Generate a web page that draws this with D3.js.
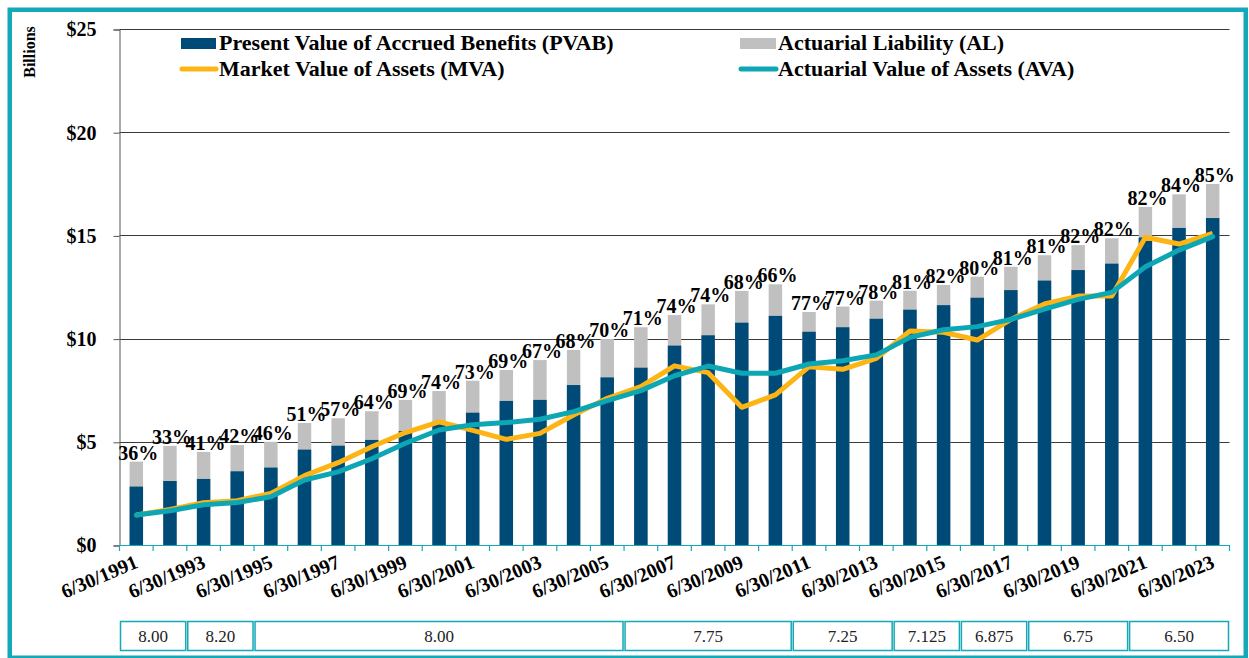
<!DOCTYPE html>
<meta charset="utf-8">
<script src="https://cdn.jsdelivr.net/npm/d3@7"></script>
<style>
  body { margin: 0; background: #fff; }
  svg text { font-family: "Liberation Serif", "Times New Roman", serif; }
</style>
<div id="chart"></div>
<script>

// valuation dates (6/30 of each year)
var years = [1991, 1992, 1993, 1994, 1995, 1996, 1997, 1998, 1999, 2000, 2001,
             2002, 2003, 2004, 2005, 2006, 2007, 2008, 2009, 2010, 2011, 2012,
             2013, 2014, 2015, 2016, 2017, 2018, 2019, 2020, 2021, 2022, 2023];

// $ billions
var pvab = [2.83, 3.10, 3.20, 3.57, 3.75, 4.62, 4.81, 5.09, 5.52, 5.85, 6.41,
            6.98, 7.03, 7.75, 8.12, 8.59, 9.66, 10.16, 10.77, 11.10, 10.33, 10.55,
            10.96, 11.40, 11.62, 11.98, 12.35, 12.81, 13.32, 13.63, 14.90, 15.36, 15.84];
var al   = [4.04, 4.80, 4.51, 4.84, 5.00, 5.91, 6.14, 6.48, 7.03, 7.46, 7.96,
            8.48, 8.96, 9.45, 9.98, 10.55, 11.14, 11.66, 12.31, 12.63, 11.29, 11.55,
            11.84, 12.32, 12.60, 13.00, 13.48, 14.04, 14.53, 14.86, 16.38, 16.99, 17.49];
var mva  = [1.45, 1.72, 2.05, 2.15, 2.50, 3.36, 3.99, 4.76, 5.45, 5.97, 5.55,
            5.12, 5.41, 6.30, 7.11, 7.67, 8.68, 8.35, 6.67, 7.27, 8.64, 8.51,
            9.04, 10.37, 10.31, 9.93, 10.93, 11.68, 12.06, 12.06, 14.91, 14.58, 15.10];
var ava  = [1.45, 1.66, 1.95, 2.06, 2.34, 3.15, 3.54, 4.18, 4.93, 5.57, 5.83,
            5.93, 6.09, 6.46, 6.99, 7.48, 8.20, 8.67, 8.32, 8.32, 8.77, 8.93,
            9.21, 10.06, 10.43, 10.58, 10.93, 11.43, 11.90, 12.24, 13.48, 14.29, 14.94];

// funded ratio labels (AVA / AL)
var funded = ["36%", "33%", "41%", "42%", "46%", "51%", "57%", "64%", "69%", "74%", "73%",
              "69%", "67%", "68%", "70%", "71%", "74%", "74%", "68%", "66%", "77%", "77%",
              "78%", "81%", "82%", "80%", "81%", "81%", "82%", "82%", "82%", "84%", "85%"];

// assumed rate of return table under the axis
var rateLabels = ["8.00", "8.20", "8.00", "7.75", "7.25", "7.125", "6.875", "6.75", "6.50"];
var rateStart  = [1991, 1993, 1995, 2006, 2011, 2014, 2016, 2018, 2021];
var rateEnd    = [1992, 1994, 2005, 2010, 2013, 2015, 2017, 2020, 2023];

var yTicks = [0, 5, 10, 15, 20, 25];
var tickYears = years.filter(function(d) { return d % 2 == 1; });

var colPVAB = "#004a77", colAL = "#c0c0c0", colMVA = "#fdb515", colAVA = "#0ca6b5", teal = "#14a9b9";

var W = 1249, H = 658;
var svg = d3.select("#chart").append("svg")
    .attr("width", W)
    .attr("height", H)
    .style("font-family", "'Liberation Serif', 'Times New Roman', serif");

// outer frame
svg.append("rect")
    .attr("x", 9.75).attr("y", 9.75)
    .attr("width", 1236).attr("height", 648)
    .attr("fill", "none")
    .attr("stroke", teal)
    .attr("stroke-width", 4.5);

var x = d3.scaleBand()
    .domain(years)
    .range([119.5, 1229.5])
    .paddingInner(0.6)
    .paddingOuter(0.3);

var y = d3.scaleLinear()
    .domain([0, 25])
    .range([545, 29]);

// gridlines
svg.append("g")
  .selectAll("line")
  .data(yTicks.filter(function(d) { return d > 0; }))
  .enter().append("line")
    .attr("x1", 119.5).attr("x2", 1229.5)
    .attr("y1", function(d) { return Math.round(y(d)) + 0.5; })
    .attr("y2", function(d) { return Math.round(y(d)) + 0.5; })
    .attr("stroke", "#3a3a3a")
    .attr("stroke-width", 1);

// y axis
var yAxis = svg.append("g")
    .attr("transform", "translate(119.5,0.5)")
    .call(d3.axisLeft(y).tickValues(yTicks).tickSize(6).tickPadding(17)
          .tickFormat(function(d) { return "$" + d; }));
yAxis.attr("font-family", null);
yAxis.select(".domain").attr("stroke", "#555");
yAxis.selectAll(".tick line").attr("stroke", "#555");
yAxis.selectAll("text")
    .attr("font-weight", "bold")
    .attr("font-size", 20)
    .attr("fill", "#000");

svg.append("text")
    .attr("transform", "translate(35,52) rotate(-90)")
    .attr("text-anchor", "middle")
    .attr("font-weight", "bold")
    .attr("font-size", 16)
    .text("Billions");

// bars: AL behind, PVAB in front
var bars = svg.append("g");
bars.selectAll(".al")
  .data(years)
  .enter().append("rect")
    .attr("class", "al")
    .attr("x", function(d) { return x(d); })
    .attr("width", x.bandwidth())
    .attr("y", function(d, i) { return y(al[i]); })
    .attr("height", function(d, i) { return y(0) - y(al[i]); })
    .attr("fill", colAL);
bars.selectAll(".pvab")
  .data(years)
  .enter().append("rect")
    .attr("class", "pvab")
    .attr("x", function(d) { return x(d); })
    .attr("width", x.bandwidth())
    .attr("y", function(d, i) { return y(pvab[i]); })
    .attr("height", function(d, i) { return y(0) - y(pvab[i]); })
    .attr("fill", colPVAB);

// x axis: teal line with ticks between categories
var x0 = x.range()[0];
svg.append("line")
    .attr("x1", x0).attr("x2", x.range()[1])
    .attr("y1", 545.5).attr("y2", 545.5)
    .attr("stroke", teal).attr("stroke-width", 1.2);
svg.append("g")
  .selectAll("line")
  .data(d3.range(years.length + 1))
  .enter().append("line")
    .attr("x1", function(k) { return x0 + k * x.step(); })
    .attr("x2", function(k) { return x0 + k * x.step(); })
    .attr("y1", 545).attr("y2", 551)
    .attr("stroke", teal).attr("stroke-width", 1.2);

svg.append("g")
  .selectAll("text")
  .data(tickYears)
  .enter().append("text")
    .attr("transform", function(d) {
      return "translate(" + (x(d) + x.bandwidth() / 2 + 3) + ",567) rotate(-23)";
    })
    .attr("text-anchor", "end")
    .attr("font-weight", "bold")
    .attr("font-size", 20)
    .text(function(d) { return "6/30/" + d; });

// lines
var line = d3.line()
    .x(function(d, i) { return x(years[i]) + x.bandwidth() / 2; })
    .y(function(d) { return y(d); });

svg.append("path")
    .datum(mva)
    .attr("d", line)
    .attr("fill", "none")
    .attr("stroke", colMVA)
    .attr("stroke-width", 5)
    .attr("stroke-linejoin", "round");
svg.append("path")
    .datum(ava)
    .attr("d", line)
    .attr("fill", "none")
    .attr("stroke", colAVA)
    .attr("stroke-width", 5)
    .attr("stroke-linejoin", "round")
    .attr("stroke-linecap", "round");

// funded ratio labels
svg.append("g")
  .selectAll("text")
  .data(funded)
  .enter().append("text")
    .attr("x", function(d, i) { return x(years[i]) + x.bandwidth() / 2 + 2; })
    .attr("y", function(d, i) { return y(al[i]) - 2; })
    .attr("text-anchor", "middle")
    .attr("font-weight", "bold")
    .attr("font-size", 20)
    .text(function(d) { return d; });

// legend
var legend = svg.append("g").attr("font-weight", "bold").attr("font-size", 22);
legend.append("rect").attr("x", 181).attr("y", 38).attr("width", 35).attr("height", 11).attr("fill", colPVAB);
legend.append("rect").attr("x", 740).attr("y", 38).attr("width", 36).attr("height", 11).attr("fill", colAL);
legend.append("line").attr("x1", 182).attr("x2", 216).attr("y1", 69).attr("y2", 69)
    .attr("stroke", colMVA).attr("stroke-width", 5).attr("stroke-linecap", "round");
legend.append("line").attr("x1", 741).attr("x2", 776).attr("y1", 69).attr("y2", 69)
    .attr("stroke", colAVA).attr("stroke-width", 5).attr("stroke-linecap", "round");
legend.append("text").attr("x", 219).attr("y", 50).text("Present Value of Accrued Benefits (PVAB)");
legend.append("text").attr("x", 778).attr("y", 50).text("Actuarial Liability (AL)");
legend.append("text").attr("x", 219).attr("y", 76).text("Market Value of Assets (MVA)");
legend.append("text").attr("x", 778).attr("y", 76).text("Actuarial Value of Assets (AVA)");

// rate table
var table = svg.append("g");
rateLabels.forEach(function(lab, i) {
  var left = x(rateStart[i]) - (x.step() - x.bandwidth()) / 2;
  var right = x(rateEnd[i]) + x.bandwidth() + (x.step() - x.bandwidth()) / 2;
  table.append("rect")
      .attr("x", left + 1).attr("y", 621.5)
      .attr("width", right - left - 2).attr("height", 29)
      .attr("fill", "none")
      .attr("stroke", teal)
      .attr("stroke-width", 1.5);
  table.append("text")
      .attr("x", (left + right) / 2)
      .attr("y", 642)
      .attr("text-anchor", "middle")
      .attr("font-size", 17)
      .attr("fill", "#222")
      .text(lab);
});

</script>
